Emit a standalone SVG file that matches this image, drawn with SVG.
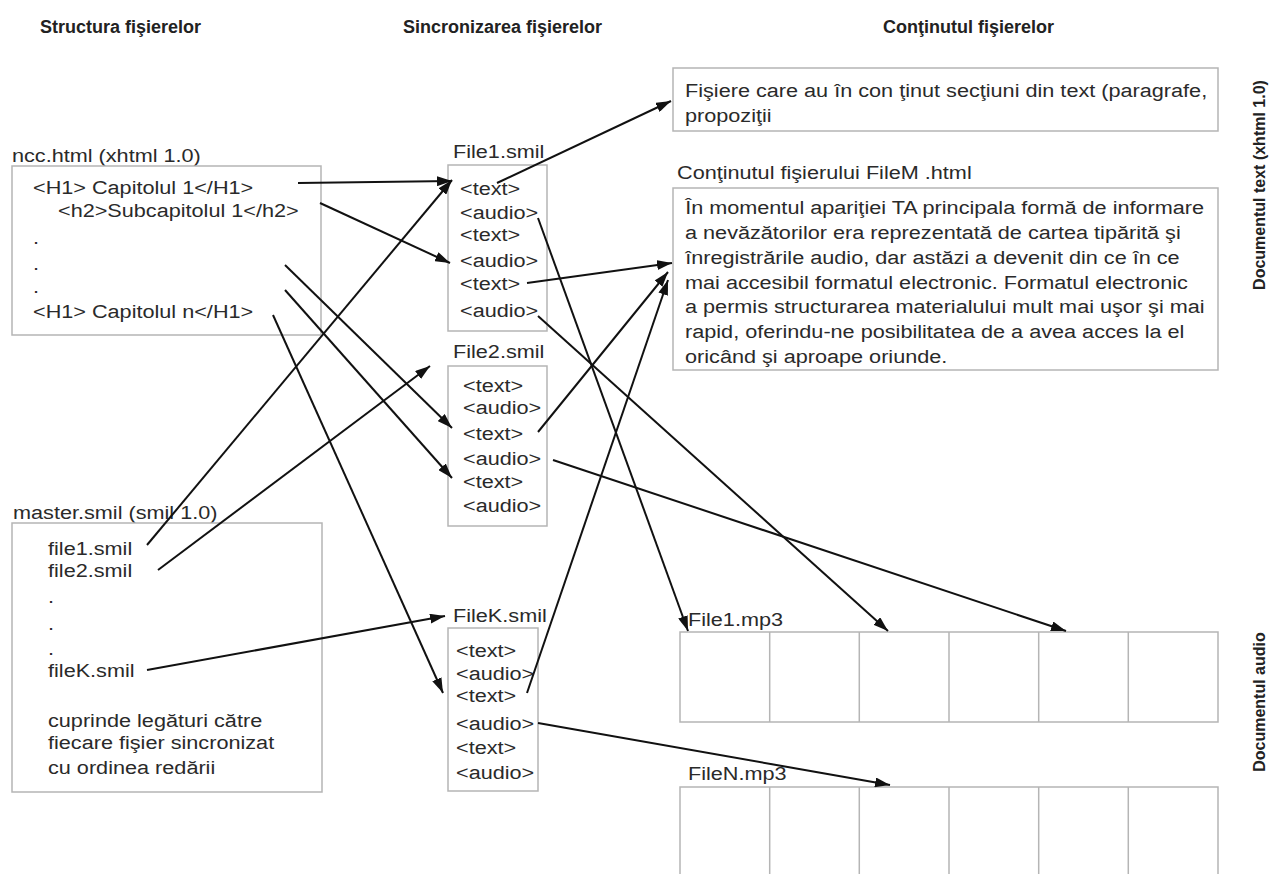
<svg xmlns="http://www.w3.org/2000/svg" width="1274" height="874" viewBox="0 0 1274 874">
<defs>
<style>
.hdr{font-family:"Liberation Sans",Arial,sans-serif;font-size:18px;font-weight:bold;fill:#222}
.side{font-family:"Liberation Sans",Arial,sans-serif;font-size:16px;font-weight:bold;fill:#222}
.t{font-family:"Liberation Sans",Arial,sans-serif;font-size:19px;fill:#2a2a2a;transform-box:fill-box;transform-origin:0 0;transform:scaleX(1.14)}
.box{fill:#fff;stroke:#b5b5b5;stroke-width:1.5}
.cell{fill:none;stroke:#b5b5b5;stroke-width:1.5}
#connectors line{stroke:#111;stroke-width:2;marker-end:url(#arr)}
</style>
<marker id="arr" viewBox="0 0 15 10" refX="15" refY="5" markerWidth="15" markerHeight="10" markerUnits="userSpaceOnUse" orient="auto">
<path d="M0,0 L15,5 L0,10 z" fill="#111"/>
</marker>
</defs>
<rect width="1274" height="874" fill="#fff"/>

<g id="headers">
<text class="hdr" x="40" y="33">Structura fişierelor</text>
<text class="hdr" x="403" y="33">Sincronizarea fişierelor</text>
<text class="hdr" x="883" y="33">Conţinutul fişierelor</text>
<text class="side" transform="rotate(-90 1265 185)" x="1265" y="185" text-anchor="middle">Documentul text (xhtml 1.0)</text>
<text class="side" transform="rotate(-90 1265 702)" x="1265" y="702" text-anchor="middle">Documentul audio</text>
</g>

<g id="ncc">
<text class="t" x="12" y="162">ncc.html (xhtml 1.0)</text>
<rect class="box" x="12" y="166" width="309" height="169"/>
<text class="t" x="33" y="194">&lt;H1&gt; Capitolul 1&lt;/H1&gt;</text>
<text class="t" x="58" y="217">&lt;h2&gt;Subcapitolul 1&lt;/h2&gt;</text>
<text class="t" x="33" y="244">.</text>
<text class="t" x="33" y="270">.</text>
<text class="t" x="33" y="293">.</text>
<text class="t" x="33" y="318">&lt;H1&gt; Capitolul n&lt;/H1&gt;</text>
</g>

<g id="master">
<text class="t" x="13" y="519">master.smil (smil 1.0)</text>
<rect class="box" x="12" y="523" width="310" height="269"/>
<text class="t" x="48" y="555">file1.smil</text>
<text class="t" x="48" y="577">file2.smil</text>
<text class="t" x="48" y="603">.</text>
<text class="t" x="48" y="630">.</text>
<text class="t" x="48" y="655">.</text>
<text class="t" x="48" y="677">fileK.smil</text>
<text class="t" x="48" y="727">cuprinde legături către</text>
<text class="t" x="48" y="749">fiecare fişier sincronizat</text>
<text class="t" x="48" y="774">cu ordinea redării</text>
</g>

<g id="file1smil">
<text class="t" x="453" y="158">File1.smil</text>
<rect class="box" x="448" y="165" width="99" height="166"/>
<text class="t" x="460" y="195">&lt;text&gt;</text>
<text class="t" x="460" y="219">&lt;audio&gt;</text>
<text class="t" x="460" y="241">&lt;text&gt;</text>
<text class="t" x="460" y="267">&lt;audio&gt;</text>
<text class="t" x="460" y="290">&lt;text&gt;</text>
<text class="t" x="460" y="317">&lt;audio&gt;</text>
</g>

<g id="file2smil">
<text class="t" x="453" y="358">File2.smil</text>
<rect class="box" x="448" y="366" width="99" height="160"/>
<text class="t" x="463" y="392">&lt;text&gt;</text>
<text class="t" x="463" y="414">&lt;audio&gt;</text>
<text class="t" x="463" y="440">&lt;text&gt;</text>
<text class="t" x="463" y="465">&lt;audio&gt;</text>
<text class="t" x="463" y="488">&lt;text&gt;</text>
<text class="t" x="463" y="512">&lt;audio&gt;</text>
</g>

<g id="fileKsmil">
<text class="t" x="453" y="622">FileK.smil</text>
<rect class="box" x="448" y="628" width="90" height="163"/>
<text class="t" x="456" y="657">&lt;text&gt;</text>
<text class="t" x="456" y="680">&lt;audio&gt;</text>
<text class="t" x="456" y="702">&lt;text&gt;</text>
<text class="t" x="456" y="730">&lt;audio&gt;</text>
<text class="t" x="456" y="754">&lt;text&gt;</text>
<text class="t" x="456" y="779">&lt;audio&gt;</text>
</g>

<g id="sections">
<rect class="box" x="673" y="68" width="545" height="63"/>
<text class="t" x="685" y="97">Fişiere care au în con ţinut secţiuni din text (paragrafe,</text>
<text class="t" x="685" y="122">propoziţii</text>
</g>

<g id="fileM">
<text class="t" x="677" y="179">Conţinutul fişierului FileM .html</text>
<rect class="box" x="673" y="188" width="545" height="182"/>
<text class="t" x="685" y="214">În momentul apariţiei TA principala formă de informare</text>
<text class="t" x="685" y="239">a nevăzătorilor era reprezentată de cartea tipărită şi</text>
<text class="t" x="685" y="264">înregistrările audio, dar astăzi a devenit din ce în ce</text>
<text class="t" x="685" y="289">mai accesibil formatul electronic. Formatul electronic</text>
<text class="t" x="685" y="313">a permis structurarea materialului mult mai uşor şi mai</text>
<text class="t" x="685" y="338">rapid, oferindu-ne posibilitatea de a avea acces la el</text>
<text class="t" x="685" y="363">oricând şi aproape oriunde.</text>
</g>

<g id="file1mp3">
<text class="t" x="688" y="626">File1.mp3</text>
<rect class="cell" x="680" y="632" width="538" height="90"/>
<path class="cell" d="M769.7,632V722M859.3,632V722M949,632V722M1038.7,632V722M1128.3,632V722"/>
</g>

<g id="fileNmp3">
<text class="t" x="688" y="780">FileN.mp3</text>
<rect class="cell" x="680" y="787" width="538" height="100"/>
<path class="cell" d="M769.7,787V874M859.3,787V874M949,787V874M1038.7,787V874M1128.3,787V874"/>
</g>

<g id="connectors">
<line x1="298" y1="183" x2="452" y2="181"/>
<line x1="320" y1="203" x2="450" y2="263"/>
<line x1="285" y1="265" x2="452" y2="428"/>
<line x1="285" y1="290" x2="452" y2="478"/>
<line x1="273" y1="315" x2="443" y2="693"/>
<line x1="147" y1="545" x2="452" y2="180"/>
<line x1="158" y1="570" x2="430" y2="366"/>
<line x1="147" y1="670" x2="445" y2="616"/>
<line x1="497" y1="183" x2="671" y2="101"/>
<line x1="538" y1="218" x2="688" y2="631"/>
<line x1="527" y1="283" x2="672" y2="263"/>
<line x1="538" y1="316" x2="888" y2="631"/>
<line x1="538" y1="432" x2="668" y2="272"/>
<line x1="527" y1="693" x2="668" y2="280"/>
<line x1="553" y1="460" x2="1066" y2="631"/>
<line x1="538" y1="723" x2="890" y2="785"/>
</g>
</svg>
